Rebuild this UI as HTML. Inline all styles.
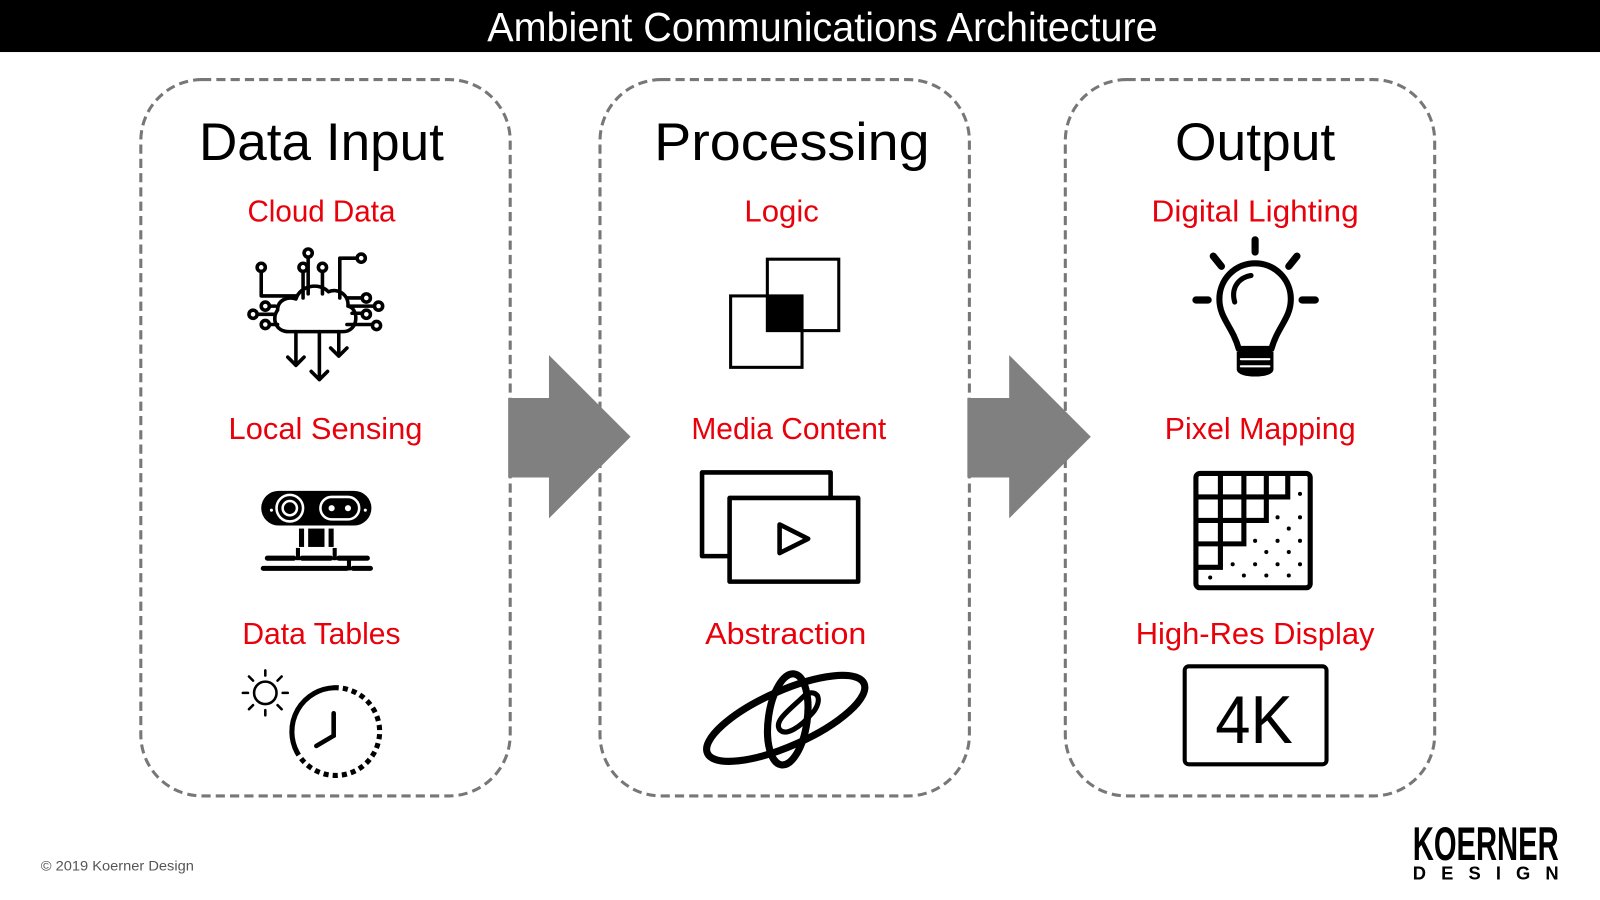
<!DOCTYPE html>
<html><head><meta charset="utf-8"><style>
html,body{margin:0;padding:0;background:#fff;width:1600px;height:900px;overflow:hidden}
svg{display:block}
text{font-family:"Liberation Sans Narrow","Liberation Sans",sans-serif}
</style></head><body>
<svg width="1600" height="900" viewBox="0 0 1568 882" xmlns="http://www.w3.org/2000/svg">
<rect x="0" y="0" width="1568" height="51" fill="#000"/>
<text x="806" y="40" fill="#fff" font-size="40" text-anchor="middle" textLength="657" lengthAdjust="spacingAndGlyphs">Ambient Communications Architecture</text>

<g fill="none" stroke="#777" stroke-width="3" stroke-dasharray="9 5">
<rect x="138" y="78" width="362" height="702" rx="60"/>
<rect x="588" y="78" width="362" height="702" rx="60"/>
<rect x="1044" y="78" width="362" height="702" rx="60"/>
</g>

<g fill="#808080">
<polygon points="498,390 538,390 538,348 618,428 538,508 538,468 498,468"/>
<polygon points="948,390 989,390 989,348 1069,428 989,508 989,468 948,468"/>
</g>

<g font-size="52" fill="#000" text-anchor="middle">
<text x="315" y="157" textLength="240" lengthAdjust="spacingAndGlyphs">Data Input</text>
<text x="776" y="157" textLength="270" lengthAdjust="spacingAndGlyphs">Processing</text>
<text x="1230" y="157" textLength="157" lengthAdjust="spacingAndGlyphs">Output</text>
</g>
<g font-size="30" fill="#e8000b" text-anchor="middle">
<text x="315" y="217" textLength="145" lengthAdjust="spacingAndGlyphs">Cloud Data</text>
<text x="319" y="430" textLength="190" lengthAdjust="spacingAndGlyphs">Local Sensing</text>
<text x="315" y="631" textLength="155" lengthAdjust="spacingAndGlyphs">Data Tables</text>
<text x="766" y="217" textLength="73" lengthAdjust="spacingAndGlyphs">Logic</text>
<text x="773" y="430" textLength="191" lengthAdjust="spacingAndGlyphs">Media Content</text>
<text x="770" y="631" textLength="158" lengthAdjust="spacingAndGlyphs">Abstraction</text>
<text x="1230" y="217" textLength="203" lengthAdjust="spacingAndGlyphs">Digital Lighting</text>
<text x="1235" y="430" textLength="187" lengthAdjust="spacingAndGlyphs">Pixel Mapping</text>
<text x="1230" y="631" textLength="234" lengthAdjust="spacingAndGlyphs">High-Res Display</text>
</g>

<!-- Cloud icon -->
<g fill="none" stroke="#000" stroke-width="3.5" stroke-linecap="round" stroke-linejoin="round">
<path d="M283,325 C270,325 266,312 272,304 C272,294 282,290 290,293 C294,280 312,276 322,286 C330,282 342,288 341,300 C352,302 352,325 336,325 Z" fill="#fff"/>
<path d="M290,325 V358 M282,350 L290,358 L298,350"/>
<path d="M313,325 V372 M305,364 L313,372 L321,364"/>
<path d="M332,325 V348 M324,341 L332,349 L340,341"/>
<path d="M256,266 V290 H290"/><circle cx="256" cy="262" r="4"/>
<path d="M297,292 V266"/><circle cx="297" cy="262" r="4"/>
<path d="M302,288 V252"/><circle cx="302" cy="248" r="4"/>
<path d="M316,288 V266"/><circle cx="316" cy="262" r="4"/>
<path d="M333,292 V253 H350"/><circle cx="354" cy="253" r="4"/>
<path d="M340,292 H355"/><circle cx="359" cy="292" r="4"/>
<path d="M343,300 H367"/><circle cx="371" cy="300" r="4"/>
<path d="M345,307 H355"/><circle cx="359" cy="308" r="4"/>
<path d="M340,318 H365"/><circle cx="369" cy="319" r="4"/>
<path d="M270,300 H264"/><circle cx="260" cy="300" r="4"/>
<path d="M268,308 H252"/><circle cx="248" cy="308" r="4"/>
<path d="M272,318 H264"/><circle cx="260" cy="318" r="4"/>
</g>

<!-- Sensing -->
<g>
<rect x="256" y="481" width="108" height="34" rx="17" fill="#000"/>
<circle cx="284" cy="498" r="13" fill="none" stroke="#fff" stroke-width="2.5"/>
<circle cx="284" cy="498" r="7" fill="none" stroke="#fff" stroke-width="2.5"/>
<rect x="314" y="487" width="38" height="22" rx="11" fill="none" stroke="#fff" stroke-width="2.5"/>
<circle cx="325" cy="498" r="3" fill="#fff"/><circle cx="341" cy="498" r="3" fill="#fff"/>
<circle cx="266" cy="500" r="1.5" fill="#fff"/><circle cx="358" cy="500" r="1.5" fill="#fff"/>
<rect x="293" y="518" width="5" height="18" fill="#000"/>
<rect x="302" y="518" width="16" height="18" fill="#000"/>
<rect x="322" y="518" width="5" height="18" fill="#000"/>
<path d="M262,547 H288 M296,547 H324 M332,547 H360" stroke="#000" stroke-width="5" stroke-linecap="round"/>
<path d="M258,557 H340 M346,557 H363" stroke="#000" stroke-width="5" stroke-linecap="round"/>
<rect x="290" y="537" width="4" height="12" fill="#000"/>
<rect x="326" y="537" width="4" height="12" fill="#000"/>
<rect x="340" y="547" width="4" height="12" fill="#000"/>
</g>

<!-- Clock & sun -->
<g fill="none" stroke="#000" stroke-linecap="round">
<circle cx="260" cy="679" r="11" stroke-width="2.5"/>
<path d="M260,662 V657 M260,696 V701 M243,679 H238 M277,679 H282 M248,667 L244,663 M272,667 L276,663 M248,691 L244,695 M272,691 L276,695" stroke-width="2.5"/>
<path d="M291,737 A43,43 0 0 1 327,674" stroke-width="5"/>
<path d="M327,674 A43,43 0 1 1 291,737" stroke-width="5" stroke-dasharray="5 4" stroke-linecap="butt"/>
<path d="M327,699 V721 L310,731" stroke-width="4.5"/>
</g>

<!-- Logic -->
<g stroke="#000" stroke-width="3" fill="none">
<rect x="752" y="254" width="70" height="70"/>
<rect x="716" y="290" width="70" height="70"/>
</g>
<rect x="752" y="290" width="34" height="34" fill="#000"/>

<!-- Media -->
<g stroke="#000" stroke-width="4.5" stroke-linejoin="round">
<rect x="688" y="463" width="126" height="82" fill="#fff"/>
<rect x="715" y="488" width="126" height="82" fill="#fff"/>
<polygon points="764,514 792,528 764,542" fill="none"/>
</g>

<!-- Abstraction -->
<g fill="none" stroke="#000" stroke-width="7">
<ellipse cx="770" cy="704" rx="84" ry="27" transform="rotate(-24 770 704)"/>
<ellipse cx="772" cy="705" rx="19" ry="45" transform="rotate(8 772 705)"/>
<path d="M790,680 C805,675 805,690 795,700 C785,712 770,722 764,715 C758,706 775,695 790,680" stroke-width="5"/>
</g>

<!-- Lightbulb -->
<g fill="none" stroke="#000" stroke-linecap="round">
<path d="M1230,235 V247 M1189,251 L1197,261 M1271,251 L1263,261 M1172,294 H1184 M1276,294 H1289" stroke-width="7"/>
<path d="M1214,342 C1208,320 1195,312 1195,293 A35,35 0 0 1 1265,293 C1265,312 1252,320 1246,342 Z" stroke-width="6" stroke-linejoin="round"/>
<path d="M1210,296 C1206,282 1214,272 1226,270" stroke-width="5"/>
<path d="M1213,346 H1247 V362 C1247,370 1213,370 1213,362 Z" fill="#000" stroke-width="2"/>
<path d="M1216,352 H1244 M1216,359 H1244" stroke="#fff" stroke-width="2"/>
</g>

<!-- Pixel mapping -->
<g>
<rect x="1172" y="464" width="112" height="112" rx="4" fill="none" stroke="#000" stroke-width="5"/>
<path d="M1172,487 H1262 V464 M1196,464 V556 M1219,464 V533 M1241,464 V510 M1172,510 H1241 V487 M1172,533 H1219 V510 M1172,556 H1196 V533" fill="none" stroke="#000" stroke-width="5"/>
<g fill="#000">
<circle cx="1274" cy="484" r="2"/><circle cx="1252" cy="507" r="2"/><circle cx="1274" cy="507" r="2"/>
<circle cx="1263" cy="518" r="2"/><circle cx="1230" cy="530" r="2"/><circle cx="1252" cy="530" r="2"/><circle cx="1274" cy="530" r="2"/>
<circle cx="1241" cy="541" r="2"/><circle cx="1263" cy="541" r="2"/>
<circle cx="1208" cy="553" r="2"/><circle cx="1230" cy="553" r="2"/><circle cx="1252" cy="553" r="2"/><circle cx="1274" cy="553" r="2"/>
<circle cx="1219" cy="564" r="2"/><circle cx="1241" cy="564" r="2"/><circle cx="1263" cy="564" r="2"/>
<circle cx="1186" cy="566" r="2"/>
</g>
</g>

<!-- 4K -->
<rect x="1161" y="653" width="139" height="96" rx="4" fill="none" stroke="#000" stroke-width="4"/>
<text x="1229" y="728" font-size="66" text-anchor="middle" fill="#000" textLength="76" lengthAdjust="spacingAndGlyphs">4K</text>

<!-- footer -->
<text x="40" y="853" font-size="14" fill="#555" textLength="150" lengthAdjust="spacingAndGlyphs">© 2019 Koerner Design</text>
<text x="1456" y="843" font-size="46" font-weight="bold" text-anchor="middle" fill="#000" textLength="143" lengthAdjust="spacingAndGlyphs">KOERNER</text>
<text x="1456" y="862" font-size="18" font-weight="bold" text-anchor="middle" fill="#000" textLength="143" lengthAdjust="spacing">DESIGN</text>
</svg>
</body></html>
